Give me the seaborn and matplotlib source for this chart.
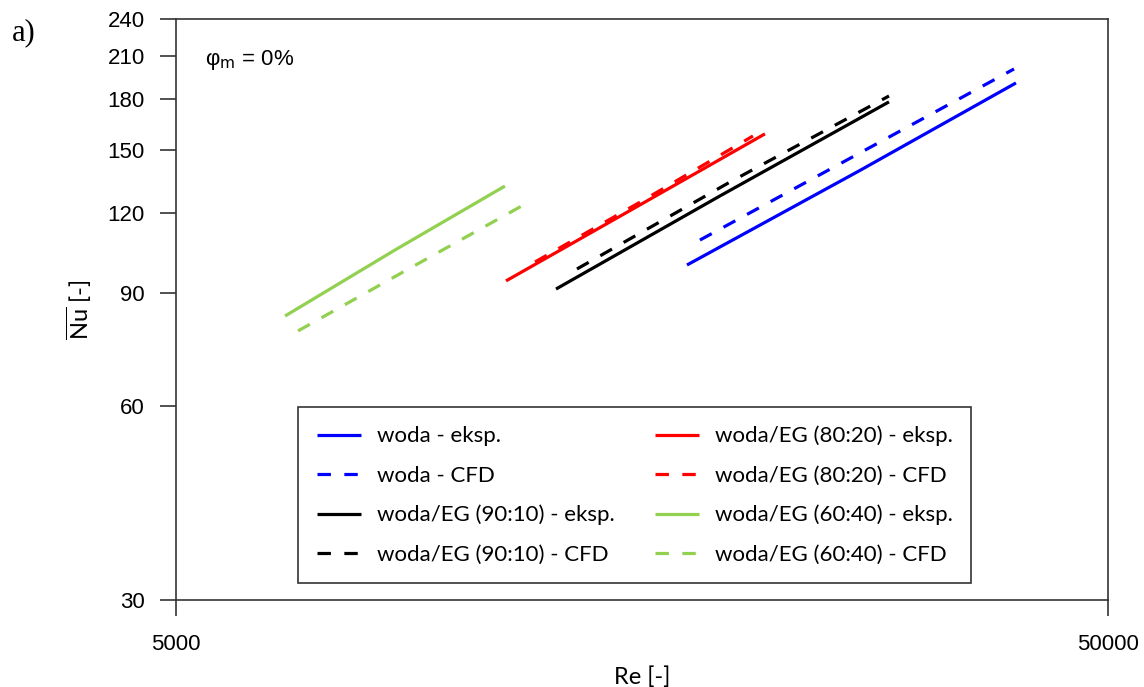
import numpy as np
import pandas as pd
import matplotlib
matplotlib.use("Agg")
import matplotlib.pyplot as plt
from matplotlib.ticker import FixedLocator, FixedFormatter, NullLocator
import seaborn as sns

# ---------------------------
# data (Re, Nu)
# ---------------------------
re_woda_eksp = [17670, 27095, 39830]
nu_woda_eksp = [99.5, 139.6, 190.9]
re_woda_cfd = [18245, 29395, 39640]
nu_woda_cfd = [108.8, 158.5, 200.7]

re_eg9010_eksp = [12785, 19170, 29107]
nu_eg9010_eksp = [91.3, 127.4, 178.4]
re_eg9010_cfd = [13465, 19650, 29107]
nu_eg9010_cfd = [98.1, 133.9, 182.2]

re_eg8020_eksp = [11300, 15735, 21425]
nu_eg8020_eksp = [94.0, 123.4, 159.1]
re_eg8020_cfd = [12140, 15735, 20800]
nu_eg8020_cfd = [100.6, 124.6, 157.9]

re_eg6040_eksp = [6546, 8590, 11270]
nu_eg6040_eksp = [82.9, 105.0, 132.0]
re_eg6040_cfd = [6760, 8915, 11900]
nu_eg6040_cfd = [78.6, 98.4, 124.2]

y_ticks = [30, 60, 90, 120, 150, 180, 210, 240]
x_ticks = [5000, 50000]

series = [
    ("woda - eksp.", re_woda_eksp, nu_woda_eksp, "#0000FF", False),
    ("woda - CFD", re_woda_cfd, nu_woda_cfd, "#0000FF", True),
    ("woda/EG (90:10) - eksp.", re_eg9010_eksp, nu_eg9010_eksp, "#000000", False),
    ("woda/EG (90:10) - CFD", re_eg9010_cfd, nu_eg9010_cfd, "#000000", True),
    ("woda/EG (80:20) - eksp.", re_eg8020_eksp, nu_eg8020_eksp, "#FF0000", False),
    ("woda/EG (80:20) - CFD", re_eg8020_cfd, nu_eg8020_cfd, "#FF0000", True),
    ("woda/EG (60:40) - eksp.", re_eg6040_eksp, nu_eg6040_eksp, "#92D050", False),
    ("woda/EG (60:40) - CFD", re_eg6040_cfd, nu_eg6040_cfd, "#92D050", True),
]

sns.set_style("white")
plt.rcParams["mathtext.fontset"] = "custom"
plt.rcParams["mathtext.rm"] = "Lato"
plt.rcParams["mathtext.it"] = "Lato:italic"
plt.rcParams["text.color"] = "black"
plt.rcParams["axes.labelcolor"] = "black"
plt.rcParams["xtick.color"] = "black"
plt.rcParams["ytick.color"] = "black"

fig = plt.figure(figsize=(11.44, 6.87), dpi=100)
ax = fig.add_axes([176 / 1144, 87 / 687, 932 / 1144, 581 / 687])

handles = []
for name, xs, ys, col, dashed in series:
    df = pd.DataFrame({"Re": xs, "Nu": ys})
    sns.lineplot(data=df, x="Re", y="Nu", color=col, lw=2.3, ax=ax, legend=False)
    ln = ax.lines[-1]
    if dashed:
        ln.set_dashes((4.2, 4.2))
    ln.set_solid_capstyle("butt")
    handles.append(ln)

ax.set_xscale("log")
ax.set_yscale("log")
ax.set_xlim(5000, 50000)
ax.set_ylim(30, 240)

ax.xaxis.set_major_locator(FixedLocator(x_ticks))
ax.xaxis.set_major_formatter(FixedFormatter([str(v) for v in x_ticks]))
ax.xaxis.set_minor_locator(NullLocator())
ax.yaxis.set_major_locator(FixedLocator(y_ticks))
ax.yaxis.set_major_formatter(FixedFormatter([str(v) for v in y_ticks]))
ax.yaxis.set_minor_locator(NullLocator())

for sp in ax.spines.values():
    sp.set_color("#333333")
    sp.set_linewidth(1.2)
ax.tick_params(axis="both", direction="out", length=11.5, width=1.2,
               color="#333333", labelsize=16, left=True, bottom=True)
ax.tick_params(axis="y", pad=11)
ax.tick_params(axis="x", pad=13)
for lab in ax.get_xticklabels() + ax.get_yticklabels():
    lab.set_family("Liberation Sans")
ax.grid(False)

ax.set_xlabel("Re [-]", family="Lato", fontsize=17, labelpad=8)
ax.set_ylabel(r"$\overline{\mathrm{Nu}}$ [-]", family="Lato", fontsize=17, labelpad=10)

ax.text(0.031, 0.93, "φ$_\\mathrm{m}$ = 0%", transform=ax.transAxes,
        family="Liberation Sans", math_fontfamily="dejavusans", fontsize=16,
        va="center", ha="left")

fig.text(0.010, 0.974, "a)", family="Liberation Serif", fontsize=22, va="top", ha="left")

leg = ax.legend(handles=handles, labels=[s[0] for s in series], ncol=2,
                loc="upper left", bbox_to_anchor=((298 - 176) / 932, (600 - 407) / 581),
                prop={"family": "Lato", "size": 16}, frameon=True, fancybox=False,
                edgecolor="#333333", framealpha=1, handlelength=2.0,
                handletextpad=0.7, columnspacing=1.8, labelspacing=0.86,
                borderpad=0.85, borderaxespad=0)
leg.get_frame().set_linewidth(1.2)

fig.savefig("out.png", dpi=100)
